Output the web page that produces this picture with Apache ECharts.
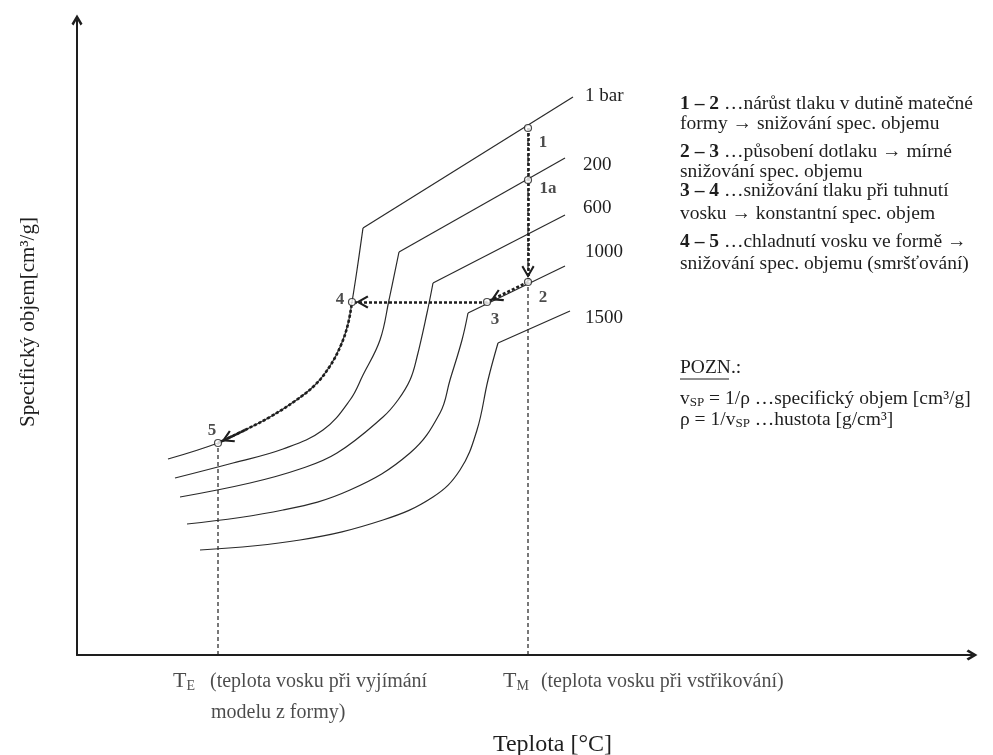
<!DOCTYPE html>
<html><head><meta charset="utf-8">
<script src="https://cdn.jsdelivr.net/npm/echarts@6/dist/echarts.min.js"></script>
<style>html,body{margin:0;padding:0;background:#fff}#c{width:993px;height:755px}</style>
</head><body><div id="c"></div>
<script>
// ---- data (arbitrary units: temperature on x, specific volume on y) ----
const curveNames = ['1 bar', '200', '600', '1000', '1500'];
// lower (solid/transition) parts, smooth
const lower1bar = [[9.1,19.6],[14.1,21.2],[16.8,22.5],[19.3,23.8],[21.8,25.4],[23.8,27.0],[25.3,28.9],[26.4,31.0],[27.1,33.1],[27.5,35.3],[28.0,38.5],[28.6,42.7]];
const lower200  = [[9.8,17.7],[15.6,19.2],[20.6,20.6],[24.6,22.5],[27.3,25.5],[28.6,28.0],[30.3,31.5],[31.2,35.5],[32.2,40.3]];
const lower600  = [[10.3,15.8],[17.3,17.2],[22.3,18.6],[26.0,20.2],[30.6,23.8],[32.1,25.5],[33.3,27.5],[34.0,29.8],[35.0,34.2],[35.6,37.2]];
const lower1000 = [[11.0,13.1],[20.6,14.5],[27.3,16.5],[33.3,20.2],[36.3,24.2],[37.3,27.5],[38.5,31.5],[39.1,34.2]];
const lower1500 = [[12.3,10.5],[22.3,11.5],[30.6,13.5],[35.6,15.8],[38.3,18.5],[40.0,22.5],[41.1,27.5],[42.1,31.2]];
// upper (melt) parts, straight
const upper1bar = [[28.6,42.7],[49.6,55.8]];
const upper200  = [[32.2,40.3],[48.8,49.7]];
const upper600  = [[35.6,37.2],[48.8,44.0]];
const upper1000 = [[39.1,34.2],[48.8,38.9]];
const upper1500 = [[42.1,31.2],[49.3,34.4]];
// process points
const pointNames = ['1', '1a', '2', '3', '4', '5'];
const pointXY = [[45.1,52.7],[45.1,47.5],[45.1,37.3],[41.0,35.3],[27.5,35.3],[14.1,21.2]];
const TE = 14.1, TM = 45.1;
const axisLabels = ['T', 'E', '(teplota vosku při vyjímání', 'modelu z formy)', 'M', '(teplota vosku při vstřikování)'];
const xName = 'Teplota [°C]';
const yName = 'Specifický objem[cm³/g]';
const notes = [
  '{b|1 – 2} …nárůst tlaku v dutině matečné',
  'formy → snižování spec. objemu',
  '{b|2 – 3} …působení dotlaku → mírné',
  'snižování spec. objemu',
  '{b|3 – 4} …snižování tlaku při tuhnutí',
  'vosku → konstantní spec. objem',
  '{b|4 – 5} …chladnutí vosku ve formě →',
  'snižování spec. objemu (smršťování)'
];
const notesY = [102, 122, 150, 170, 189, 212, 240, 262];

// ---- styles ----
const FONT = '"Liberation Serif", "Times New Roman", serif';
const INK = '#1e1e1e';
const chevron = 'path://M5,0 L10,8.4 L8.2,10 L5,4.4 L1.8,10 L0,8.4 Z';
// open arrowhead whose tip sits just behind the symbol centre (padded square bbox)
const headPath = 'path://M-8,-16 L-8,-16 Z M18,10 L18,10 Z M5,0 L10,8.7 L8.7,9.6 L5,3.2 L1.3,9.6 L0,8.7 Z';

const lowers = [lower1bar, lower200, lower600, lower1000, lower1500];
const uppers = [upper1bar, upper200, upper600, upper1000, upper1500];
const endOffsets = [[12,-1],[18,7],[18,-7],[20,-14],[15,7]];

const series = [];
lowers.forEach((d, i) => {
  series.push({type:'line', data:d, smooth:0.4, symbol:'none', silent:true,
    lineStyle:{color:'#2a2a2a', width:1.2}, z:2});
});
uppers.forEach((d, i) => {
  series.push({type:'line', data:d, symbol:'none', silent:true,
    lineStyle:{color:'#2a2a2a', width:1.2}, z:2,
    endLabel:{show:true, formatter:curveNames[i], distance:0, offset:endOffsets[i],
      fontFamily:FONT, fontSize:19, color:INK}});
});
// thin dashed guides
series.push({type:'line', data:[[TM,0],pointXY[0]], symbol:'none', silent:true,
  lineStyle:{color:INK, width:1.2, type:[4,3]}, z:1});
series.push({type:'line', data:[[TE,0],pointXY[5]], symbol:'none', silent:true,
  lineStyle:{color:INK, width:1.2, type:[4,3]}, z:1});
// bold dotted process curve 4 -> 5 (follows 1 bar curve)
series.push({type:'line', data:lower1bar.slice(1, 10), smooth:0.4, symbol:'none', silent:true,
  lineStyle:{color:INK, width:2.6, type:[3,2]}, z:3});
// straight process segments with arrowheads
series.push({type:'lines', coordinateSystem:'cartesian2d', silent:true, z:4,
  symbol:['none', headPath], symbolSize:34,
  lineStyle:{color:INK, width:2.6, type:[3,2], opacity:1},
  data:[
    {coords:[pointXY[0], pointXY[2]]},
    {coords:[pointXY[2], pointXY[3]]},
    {coords:[pointXY[3], pointXY[4]]},
    {coords:[lower1bar[2], lower1bar[1]]}
  ]});
// marked points
const ptOffsets = [[15,15],[20,9],[15,16],[8,18],[-12,-2],[-6,-12]];
series.push({type:'scatter', z:6, silent:true, symbolSize:7,
  itemStyle:{color:'#fff', borderColor:INK, borderWidth:1.2},
  label:{show:true, position:'inside', formatter:'{b}', fontFamily:FONT, fontSize:17, fontWeight:'bold', color:INK},
  data: pointXY.map((p, i) => ({name:pointNames[i], value:p, label:{offset:ptOffsets[i]}}))
});
// x-axis annotations T_E / T_M
const richT = {
  T:{fontFamily:FONT, fontSize:22, color:INK, lineHeight:31},
  s:{fontFamily:FONT, fontSize:14, color:INK, padding:[9,0,0,0]},
  p:{fontFamily:FONT, fontSize:20, color:INK, lineHeight:31},
  g:{width:15, fontSize:12},
  g2:{width:12, fontSize:12},
  i:{width:38, fontSize:12}
};
series.push({type:'scatter', z:6, silent:true, symbolSize:0,
  data:[
    {value:[TE,0], label:{show:true, position:[-45, 11], align:'left', verticalAlign:'top',
      formatter:'{T|'+axisLabels[0]+'}{s|'+axisLabels[1]+'}{g| }{p|'+axisLabels[2]+'}\n{i| }{p|'+axisLabels[3]+'}', rich:richT}},
    {value:[TM,0], label:{show:true, position:[-25, 11], align:'left', verticalAlign:'top',
      formatter:'{T|'+axisLabels[0]+'}{s|'+axisLabels[4]+'}{g2| }{p|'+axisLabels[5]+'}', rich:richT}}
  ]});

// right-hand notes as graphic text
const graphic = notes.map((t, i) => ({
  type:'text', left:680, top:notesY[i]-8, silent:true,
  style:{text:t, fontFamily:FONT, fontSize:19.5, fill:INK,
    rich:{b:{fontFamily:FONT, fontSize:19.5, fontWeight:'bold', fill:INK}}}
}));
graphic.push({type:'text', left:680, top:358, silent:true,
  style:{text:'POZN.:', fontFamily:FONT, fontSize:19.5, fill:INK}});
graphic.push({type:'line', silent:true, shape:{x1:680, y1:379, x2:729, y2:379}, style:{stroke:INK, lineWidth:1}});
graphic.push({type:'text', left:680, top:389, silent:true,
  style:{text:'{n|v}{s|SP}{n| = 1/ρ …specifický objem [cm³/g]}', fill:INK,
    rich:{n:{fontFamily:FONT, fontSize:19.5, fill:INK}, s:{fontFamily:FONT, fontSize:13, fill:INK, padding:[8,0,0,0]}}}});
graphic.push({type:'text', left:680, top:410, silent:true,
  style:{text:'{n|ρ = 1/v}{s|SP}{n| …hustota [g/cm³]}', fill:INK,
    rich:{n:{fontFamily:FONT, fontSize:19.5, fill:INK}, s:{fontFamily:FONT, fontSize:13, fill:INK, padding:[8,0,0,0]}}}});

const chart = echarts.init(document.getElementById('c'));
chart.setOption({
  animation:false,
  backgroundColor:'#fff',
  grid:{left:77, top:20, width:895, height:635, outerBoundsMode:'none', containLabel:false},
  xAxis:{type:'value', min:0, max:89.5,
    name:xName, nameLocation:'middle', nameGap:78,
    nameTextStyle:{fontFamily:FONT, fontSize:24, color:INK, padding:[0,0,0,56]},
    axisLine:{show:true, lineStyle:{color:INK, width:2}, symbol:['none', chevron], symbolSize:[14, 11]},
    axisTick:{show:false}, axisLabel:{show:false}, splitLine:{show:false}},
  yAxis:{type:'value', min:0, max:63.5,
    name:yName, nameLocation:'middle', nameGap:38,
    nameTextStyle:{fontFamily:FONT, fontSize:21, color:INK, padding:[0,0,0,31]},
    axisLine:{show:true, lineStyle:{color:INK, width:2}, symbol:['none', chevron], symbolSize:[14, 11]},
    axisTick:{show:false}, axisLabel:{show:false}, splitLine:{show:false}},
  series:series,
  graphic:graphic
});
</script>
</body></html>
